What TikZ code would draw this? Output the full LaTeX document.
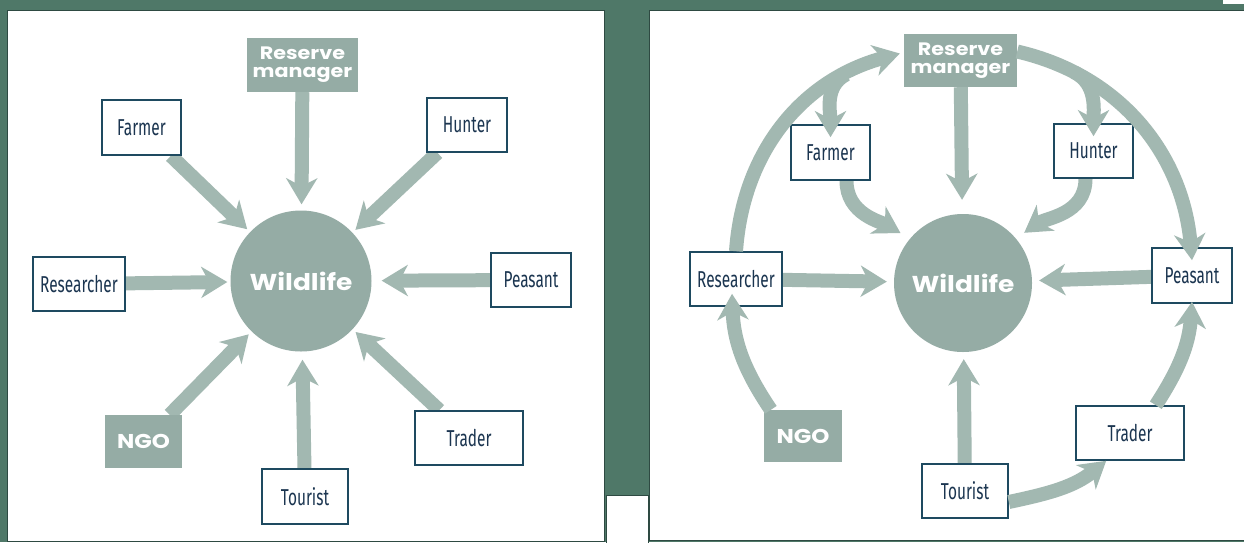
\documentclass[tikz,border=0pt]{standalone}
\usepackage{fontspec}
\newfontfamily\boxfont[FakeStretch=0.67]{Fira Sans}
\newfontfamily\heavyfont[FakeStretch=1.15]{Poppins}
\usetikzlibrary{arrows.meta}
\pgfdeclarelayer{paper}
\pgfdeclarelayer{background}
\pgfsetlayers{paper,background,main}
\definecolor{bggreen}{HTML}{4F7868}
\definecolor{arrowgrey}{HTML}{A2B8B1}
\definecolor{shapegrey}{HTML}{95ACA5}
\definecolor{boxline}{HTML}{1E4A60}
\definecolor{boxtext}{HTML}{1B3550}
\definecolor{panelline}{HTML}{2E4A42}
\begin{document}
\begin{tikzpicture}[x=1pt,y=1pt,
  actor/.style={draw=boxline, line width=1.6pt, fill=white, text=boxtext,
    font=\boxfont\fontsize{23}{25}\selectfont, minimum height=54pt, inner sep=0pt},
  greybox/.style={fill=shapegrey, text=white,
    font=\heavyfont\bfseries\fontsize{18}{21}\selectfont, align=center, inner sep=0pt},
  wildlife/.style={circle, fill=shapegrey, text=white, inner sep=0pt,
    font=\heavyfont\bfseries\fontsize{23}{24}\selectfont},
  flow/.style={draw=arrowgrey, line width=14pt,
    -{Stealth[length=26pt,width=31pt,inset=8pt]}},
  panel/.style={fill=white, draw=panelline, line width=0.8pt}
]
\useasboundingbox (0,0) rectangle (1244,-542);
\begin{pgfonlayer}{paper}
  \fill[bggreen] (0,0) rectangle (1244,-542);
  \draw[panel] (7,-10) rectangle (604,-541);
  \draw[panel] (649,-10) rectangle (1246,-540);
  \draw[panel] (606,-495) rectangle (648,-544);
  \fill[white] (1223,0) rectangle (1244,-4);
\end{pgfonlayer}

% ---------- left panel ----------
\node[greybox, minimum width=111pt, minimum height=54pt] (rmL) at (302.5,-65) {Reserve\\[-3pt]manager};
\node[actor, minimum width=79pt, minimum height=55pt] (farmerL) at (141.5,-127.5) {Farmer};
\node[actor, minimum width=80pt] (hunterL) at (467,-125) {Hunter};
\node[actor, minimum width=92pt] (resL) at (79,-284) {Researcher};
\node[wildlife, minimum size=141pt] (wlL) at (301,-281) {Wildlife};
\node[actor, minimum width=80pt] (peasL) at (531,-280) {Peasant};
\node[greybox, minimum width=77pt, minimum height=53pt, font=\heavyfont\bfseries\fontsize{20}{22}\selectfont] (ngoL) at (143.5,-441.5) {NGO};
\node[actor, minimum width=108pt] (tradL) at (469,-438) {Trader};
\node[actor, minimum width=86pt, minimum height=55pt] (tourL) at (305,-496.5) {Tourist};

\begin{pgfonlayer}{background}
  \draw[flow, shorten >=6pt] (rmL) -- (wlL);
  \draw[flow, shorten >=4pt] (farmerL) -- (wlL);
  \draw[flow, shorten >=4pt] (hunterL) -- (wlL);
  \draw[flow, shorten >=3pt] (resL) -- (wlL);
  \draw[flow, shorten >=10pt] (peasL) -- (wlL);
  \draw[flow, shorten >=4pt] (ngoL) -- (wlL);
  \draw[flow, shorten >=8pt] (tourL) -- (wlL);
  \draw[flow, shorten >=4pt] (tradL) -- (wlL);
\end{pgfonlayer}

% ---------- right panel ----------
\node[greybox, minimum width=113pt, minimum height=53pt] (rmR) at (960.5,-60.5) {Reserve\\[-3pt]manager};
\node[actor, minimum width=79pt, minimum height=55pt] (farmerR) at (830.5,-152.5) {Farmer};
\node[actor, minimum width=79pt] (hunterR) at (1093.5,-151) {Hunter};
\node[actor, minimum width=92pt] (resR) at (736,-279) {Researcher};
\node[wildlife, minimum size=138pt] (wlR) at (963,-283) {Wildlife};
\node[actor, minimum width=80pt, minimum height=55pt] (peasR) at (1192,-275.5) {Peasant};
\node[greybox, minimum width=78pt, minimum height=52pt, font=\heavyfont\bfseries\fontsize{20}{22}\selectfont] (ngoR) at (803,-436) {NGO};
\node[actor, minimum width=108pt] (tradR) at (1130,-433) {Trader};
\node[actor, minimum width=86pt] (tourR) at (965,-491) {Tourist};

\begin{pgfonlayer}{background}
  \draw[flow, shorten >=14pt] (rmR) -- (wlR);
  \draw[flow, shorten >=7pt] (resR) -- (wlR);
  \draw[flow, shorten >=7pt] (peasR) -- (wlR);
  \draw[flow, shorten >=7pt] (tourR) -- (wlR);
  \draw[flow, shorten >=11pt] ([xshift=16pt]farmerR.south) to[out=-90,in=150] (wlR.140);
  \draw[flow, shorten >=10pt] ([xshift=-8pt]hunterR.south) to[out=-90,in=35] (wlR.40);
\end{pgfonlayer}

% loop arrows (over the boxes)
\draw[flow] (resR.north) to[out=86,in=195] coordinate[pos=0.8] (jL) ([shift={(-4pt,7pt)}]rmR.west);
\draw[flow] (jL) to[out=208,in=90] ([yshift=-13pt]farmerR.north);
\draw[flow] ([yshift=9pt]rmR.east) to[out=-13,in=95] coordinate[pos=0.2] (jR) ([yshift=-13pt]peasR.north);
\draw[flow] (jR) to[out=-27,in=90] ([yshift=-13pt]hunterR.north);
\draw[flow] ([xshift=7pt]ngoR.north west) to[out=124,in=-88] ([shift={(-4pt,13pt)}]resR.south);
\draw[flow] ([yshift=-11pt]tourR.east) to[out=12,in=219] ([xshift=31pt]tradR.south west);
\draw[flow] ([xshift=-29pt]tradR.north east) to[out=57,in=-94] ([yshift=2pt]peasR.south);
\end{tikzpicture}
\end{document}
